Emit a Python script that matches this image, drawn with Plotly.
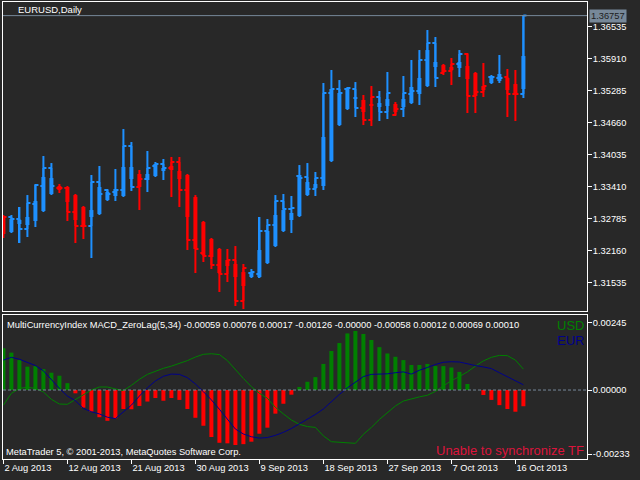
import plotly.graph_objects as go

# daily bars (broker also prints Sunday bars)
dates = [
    "2013-08-02", "2013-08-04", "2013-08-05", "2013-08-06", "2013-08-07", "2013-08-08", "2013-08-09",
    "2013-08-11", "2013-08-12", "2013-08-13", "2013-08-14", "2013-08-15", "2013-08-16",
    "2013-08-18", "2013-08-19", "2013-08-20", "2013-08-21", "2013-08-22", "2013-08-23",
    "2013-08-25", "2013-08-26", "2013-08-27", "2013-08-28", "2013-08-29", "2013-08-30",
    "2013-09-01", "2013-09-02", "2013-09-03", "2013-09-04", "2013-09-05", "2013-09-06",
    "2013-09-08", "2013-09-09", "2013-09-10", "2013-09-11", "2013-09-12", "2013-09-13",
    "2013-09-15", "2013-09-16", "2013-09-17", "2013-09-18", "2013-09-19", "2013-09-20",
    "2013-09-22", "2013-09-23", "2013-09-24", "2013-09-25", "2013-09-26", "2013-09-27",
    "2013-09-29", "2013-09-30", "2013-10-01", "2013-10-02", "2013-10-03", "2013-10-04",
    "2013-10-06", "2013-10-07", "2013-10-08", "2013-10-09", "2013-10-10", "2013-10-11",
    "2013-10-13", "2013-10-14", "2013-10-15", "2013-10-16", "2013-10-17",
]

# candle bodies / wicks as drawn
ha_open = [1.32824, 1.32531, 1.32687, 1.32667, 1.32746, 1.32941, 1.33273, 1.33429, 1.33410, 1.33253,
           1.33019, 1.32824, 1.32882, 1.33156, 1.33234, 1.33234, 1.33566, 1.33664, 1.33546, 1.33624,
           1.33722, 1.33820, 1.33722, 1.33644, 1.33214, 1.32726, 1.32394, 1.32199, 1.31984, 1.31906,
           1.31749, 1.31652, 1.31652, 1.31925, 1.32257, 1.32550, 1.32765, 1.32843, 1.33253, 1.33390,
           1.33429, 1.33917, 1.34621, 1.34933, 1.35128, 1.35109, 1.35031, 1.34972, 1.34992, 1.35031,
           1.34972, 1.35050, 1.35226, 1.35382, 1.35753, 1.35792, 1.35753, 1.35734, 1.35773, 1.35636,
           1.35382, 1.35441, 1.35480, 1.35539, 1.35421, 1.35324]
ha_close = [1.32492, 1.32785, 1.32765, 1.32824, 1.33136, 1.33605, 1.33585, 1.33351, 1.33117, 1.32765,
            1.32628, 1.32960, 1.33410, 1.33312, 1.33371, 1.33800, 1.33800, 1.33410, 1.33664, 1.33859,
            1.33781, 1.33742, 1.33566, 1.32824, 1.32199, 1.32082, 1.32042, 1.31730, 1.31867, 1.31652,
            1.31476, 1.31749, 1.32179, 1.32550, 1.32863, 1.32960, 1.32902, 1.33644, 1.33507, 1.33468,
            1.34386, 1.35324, 1.35246, 1.35343, 1.35167, 1.34874, 1.34992, 1.35050, 1.35128, 1.34874,
            1.35128, 1.35363, 1.35539, 1.36085, 1.35851, 1.35656, 1.35695, 1.35851, 1.35519, 1.35187,
            1.35304, 1.35578, 1.35617, 1.35304, 1.35207, 1.35968]
ha_high = [1.32863, 1.32863, 1.33019, 1.33253, 1.33468, 1.34015, 1.33878, 1.33468, 1.33429, 1.33273,
           1.33039, 1.33644, 1.33820, 1.33371, 1.33761, 1.34542, 1.34289, 1.33742, 1.34113, 1.33898,
           1.33957, 1.33996, 1.33996, 1.33664, 1.33253, 1.32746, 1.32414, 1.32218, 1.32199, 1.32257,
           1.31906, 1.31808, 1.32824, 1.32785, 1.33253, 1.33273, 1.33234, 1.33839, 1.33878, 1.33703,
           1.35441, 1.35695, 1.35499, 1.35363, 1.35460, 1.35207, 1.35382, 1.35285, 1.35656, 1.35070,
           1.35578, 1.35890, 1.36085, 1.36476, 1.36339, 1.35812, 1.35929, 1.36085, 1.36027, 1.35656,
           1.35832, 1.35597, 1.35988, 1.35714, 1.35695, 1.36770]
ha_low = [1.32414, 1.32511, 1.32316, 1.32433, 1.32628, 1.32921, 1.33253, 1.33292, 1.32746, 1.32316,
          1.32394, 1.32023, 1.32863, 1.33136, 1.33136, 1.33214, 1.33332, 1.32960, 1.33312, 1.33605,
          1.33546, 1.33214, 1.33019, 1.32179, 1.31730, 1.31945, 1.31808, 1.31359, 1.31554, 1.31085,
          1.31027, 1.31632, 1.31632, 1.31906, 1.32238, 1.32531, 1.32511, 1.32824, 1.33234, 1.33234,
          1.33351, 1.33898, 1.34601, 1.34914, 1.34777, 1.34621, 1.34601, 1.34699, 1.34738, 1.34796,
          1.34777, 1.35031, 1.35011, 1.35363, 1.35363, 1.35597, 1.35402, 1.35558, 1.34855, 1.34855,
          1.35167, 1.35421, 1.35441, 1.34777, 1.34699, 1.35148]

# real open / close ticks
tick_open = [1.32531, 1.32824, 1.32785, 1.32589, 1.33078, 1.33429, 1.33781, 1.33390, 1.33390, 1.32921,
             1.32648, 1.32648, 1.33507, 1.33351, 1.33312, 1.33351, 1.34210, 1.33410, 1.33566, 1.33820,
             1.33859, 1.33781, 1.33898, 1.33351, 1.32374, 1.32121, 1.32062, 1.31886, 1.31710, 1.31984,
             1.31183, 1.31730, 1.31710, 1.32550, 1.32667, 1.33136, 1.32980, 1.33624, 1.33605, 1.33371,
             1.33585, 1.35246, 1.35324, 1.35324, 1.35324, 1.34953, 1.34718, 1.35167, 1.34874, 1.34816,
             1.34933, 1.35226, 1.35285, 1.35890, 1.36222, 1.35636, 1.35675, 1.35812, 1.36007, 1.35187,
             1.35265, 1.35558, 1.35539, 1.35558, 1.35226, 1.35226]
tick_close = [1.32824, 1.32785, 1.32589, 1.33097, 1.33449, 1.33781, 1.33429, 1.33390, 1.32921, 1.32648,
              1.32648, 1.33507, 1.33273, 1.33273, 1.33351, 1.34210, 1.33410, 1.33566, 1.33781, 1.33859,
              1.33781, 1.33898, 1.33351, 1.32374, 1.32199, 1.32062, 1.31886, 1.31710, 1.31984, 1.31183,
              1.31828, 1.31749, 1.32550, 1.32667, 1.33136, 1.32980, 1.32999, 1.33585, 1.33371, 1.33585,
              1.35246, 1.35324, 1.35246, 1.35343, 1.34953, 1.34718, 1.35167, 1.34874, 1.35246, 1.34933,
              1.35246, 1.35285, 1.35890, 1.36222, 1.35539, 1.35675, 1.35812, 1.36007, 1.35187, 1.35265,
              1.35382, 1.35558, 1.35539, 1.35226, 1.35226, 1.36757]

# MultiCurrencyIndex MACD_ZeroLag panel
hist = [0.00152, 0.00136, 0.00109, 0.00085, 0.00087, 0.00076, 0.00063, 0.00052, 0.00025, -0.00012,
        -0.00064, -0.00079, -0.00099, -0.00112, -0.00103, -0.00069, -0.00070, -0.00058, -0.00042, -0.00029,
        -0.00039, -0.00029, -0.00036, -0.00069, -0.00101, -0.00130, -0.00171, -0.00192, -0.00194, -0.00200,
        -0.00197, -0.00188, -0.00159, -0.00137, -0.00086, -0.00050, -0.00017, 0.00011, 0.00030, 0.00047,
        0.00095, 0.00142, 0.00171, 0.00206, 0.00215, 0.00204, 0.00182, 0.00156, 0.00133, 0.00121,
        0.00109, 0.00091, 0.00091, 0.00095, 0.00087, 0.00087, 0.00082, 0.00066, 0.00022, 0.00000,
        -0.00018, -0.00036, -0.00055, -0.00069, -0.00079, -0.00059]
usd = [-0.00055, -0.00012, 0.00006, 0.00010, 0.00006, -0.00007, -0.00034, -0.00051, -0.00052, -0.00034,
       -0.00017, 0.00000, 0.00011, 0.00011, 0.00004, -0.00002, 0.00017, 0.00039, 0.00057, 0.00069,
       0.00079, 0.00087, 0.00096, 0.00107, 0.00120, 0.00130, 0.00132, 0.00129, 0.00107, 0.00073,
       0.00042, 0.00012, -0.00012, -0.00030, -0.00063, -0.00087, -0.00109, -0.00125, -0.00133, -0.00136,
       -0.00167, -0.00188, -0.00190, -0.00192, -0.00194, -0.00161, -0.00136, -0.00107, -0.00081, -0.00058,
       -0.00040, -0.00032, -0.00025, -0.00019, -0.00005, 0.00015, 0.00034, 0.00049, 0.00066, 0.00087,
       0.00106, 0.00119, 0.00126, 0.00125, 0.00109, 0.00076]
eur = [0.00109, 0.00119, 0.00112, 0.00101, 0.00089, 0.00070, 0.00036, 0.00006, -0.00022, -0.00039,
       -0.00067, -0.00079, -0.00087, -0.00099, -0.00104, -0.00081, -0.00055, -0.00022, 0.00008, 0.00033,
       0.00050, 0.00058, 0.00057, 0.00045, 0.00022, -0.00006, -0.00036, -0.00070, -0.00107, -0.00142,
       -0.00160, -0.00170, -0.00175, -0.00173, -0.00165, -0.00154, -0.00140, -0.00124, -0.00107, -0.00089,
       -0.00069, -0.00042, -0.00016, 0.00008, 0.00030, 0.00049, 0.00057, 0.00058, 0.00059, 0.00063,
       0.00066, 0.00058, 0.00072, 0.00082, 0.00093, 0.00101, 0.00103, 0.00102, 0.00095, 0.00089,
       0.00084, 0.00078, 0.00063, 0.00049, 0.00034, 0.00019]

last_price = 1.36757
price_ticks = [1.31535, 1.32160, 1.32785, 1.33410, 1.34035, 1.34660, 1.35285, 1.35910, 1.36535]
ind_ticks = [0.00245, 0.0, -0.00233]
ind_labels = ["0.00245", "0.00000", "-0.00233"]
date_ticks = ["2013-08-02", "2013-08-12", "2013-08-21", "2013-08-30", "2013-09-09",
              "2013-09-18", "2013-09-27", "2013-10-07", "2013-10-16"]
date_labels = ["2 Aug 2013", "12 Aug 2013", "21 Aug 2013", "30 Aug 2013", "9 Sep 2013",
               "18 Sep 2013", "27 Sep 2013", "7 Oct 2013", "16 Oct 2013"]
header = ("MultiCurrencyIndex MACD_ZeroLag(5,34) -0.00059 0.00076 0.00017 -0.00126 "
          "-0.00000 -0.00058 0.00012 0.00069 0.00010")

BG = "#282828"
BULL = "#1e90ff"
BEAR = "#ff0000"
GREEN = "#008000"
NAVY = "#00008b"
SLATE = "#778899"
FONT = "Liberation Sans"
FS = 9.3

cols = [BULL if c >= o else BEAR for o, c in zip(ha_open, ha_close)]
body_base = [min(o, c) for o, c in zip(ha_open, ha_close)]
body_h = [max(abs(c - o), 0.00004) for o, c in zip(ha_open, ha_close)]
wick_h = [h - l for h, l in zip(ha_high, ha_low)]

fig = go.Figure()

# open/close ticks, split by candle colour
for col in (BULL, BEAR):
    idx = [i for i, c in enumerate(cols) if c == col]
    fig.add_trace(go.Ohlc(
        x=[dates[i] for i in idx],
        open=[tick_open[i] for i in idx],
        close=[tick_close[i] for i in idx],
        high=[max(tick_open[i], tick_close[i]) for i in idx],
        low=[min(tick_open[i], tick_close[i]) for i in idx],
        increasing=dict(line=dict(color=col, width=2)),
        decreasing=dict(line=dict(color=col, width=2)),
        tickwidth=0.38, hoverinfo="skip", xaxis="x", yaxis="y"))

fig.add_trace(go.Bar(x=dates, y=wick_h, base=ha_low, width=0.25,
                     marker=dict(color=cols, line=dict(width=0)), xaxis="x", yaxis="y"))
fig.add_trace(go.Bar(x=dates, y=body_h, base=body_base, width=0.5,
                     marker=dict(color=cols, line=dict(width=0)), xaxis="x", yaxis="y"))

hcols = [GREEN if v >= 0 else BEAR for v in hist]
fig.add_trace(go.Bar(x=dates, y=hist, width=0.5,
                     marker=dict(color=hcols, line=dict(width=0)), xaxis="x2", yaxis="y2"))
fig.add_trace(go.Scatter(x=dates, y=usd, mode="lines", line=dict(color=GREEN, width=1),
                         xaxis="x2", yaxis="y2"))
fig.add_trace(go.Scatter(x=dates, y=eur, mode="lines", line=dict(color=NAVY, width=1),
                         xaxis="x2", yaxis="y2"))

xdom = [3 / 640, 587 / 640]
axis_common = dict(showline=True, mirror=True, linecolor="white", linewidth=1, automargin=False,
                   showgrid=False, zeroline=False, fixedrange=True)
xcat = dict(type="category", categoryorder="array", categoryarray=dates, range=[-0.05, 72.95])
tfont = dict(family=FONT, size=FS, color="white")

fig.update_layout(
    width=640, height=480,
    margin=dict(l=0, r=0, t=0, b=0, autoexpand=False),
    paper_bgcolor=BG, plot_bgcolor=BG,
    showlegend=False, barmode="overlay", hovermode=False,
    font=dict(family=FONT, size=FS, color="white"),
    xaxis=dict(domain=xdom, anchor="y", ticks="", showticklabels=False,
               rangeslider=dict(visible=False), **xcat, **axis_common),
    yaxis=dict(domain=[1 - 311 / 480, 1 - 2 / 480], range=[1.30988, 1.37023], anchor="x",
               side="right", ticks="outside", ticklen=4, tickcolor="white", ticklabelstandoff=-1,
               tickvals=price_ticks, ticktext=[f"{v:.5f}" for v in price_ticks],
               tickfont=tfont, **axis_common),
    xaxis2=dict(domain=xdom, anchor="y2", ticks="outside", ticklen=4, tickcolor="white",
                tickvals=date_ticks, ticktext=date_labels, ticklabelposition="outside right",
                tickfont=tfont, **xcat, **axis_common),
    yaxis2=dict(domain=[1 - 459 / 480, 1 - 315 / 480], range=[-0.00251, 0.00273], anchor="x2",
                side="right", ticks="outside", ticklen=4, tickcolor="white", ticklabelstandoff=-1,
                tickvals=ind_ticks, ticktext=ind_labels, tickfont=tfont, **axis_common),
)

fig.add_shape(type="line", xref="x domain", yref="y", x0=0, x1=1, y0=last_price, y1=last_price,
              line=dict(color=SLATE, width=1))
fig.add_shape(type="line", xref="x2 domain", yref="y2", x0=0, x1=1, y0=0, y1=0,
              line=dict(color=SLATE, width=1, dash="3px,2px"))

fig.add_annotation(xref="paper", yref="y", x=589 / 640, y=last_price, xanchor="left", yanchor="middle",
                   text="1.36757", showarrow=False, bgcolor=SLATE, borderpad=1,
                   font=dict(family=FONT, size=FS, color="#202020"))
fig.add_annotation(xref="paper", yref="paper", x=16 / 640, y=1 - 9 / 480, xanchor="left",
                   yanchor="middle", text="EURUSD,Daily", showarrow=False,
                   font=dict(family=FONT, size=9.5, color="white"))
fig.add_annotation(xref="paper", yref="paper", x=5 / 640, y=1 - 325 / 480, xanchor="left",
                   yanchor="middle", text=header, showarrow=False,
                   font=dict(family=FONT, size=FS, color="white"))
fig.add_annotation(xref="paper", yref="paper", x=586 / 640, y=1 - 325 / 480, xanchor="right",
                   yanchor="middle", text="USD", showarrow=False,
                   font=dict(family=FONT, size=13, color=GREEN))
fig.add_annotation(xref="paper", yref="paper", x=586 / 640, y=1 - 340 / 480, xanchor="right",
                   yanchor="middle", text="EUR", showarrow=False,
                   font=dict(family=FONT, size=13, color=NAVY))
fig.add_annotation(xref="paper", yref="paper", x=4 / 640, y=1 - 452 / 480, xanchor="left",
                   yanchor="middle", text="MetaTrader 5, © 2001-2013, MetaQuotes Software Corp.",
                   showarrow=False, font=dict(family=FONT, size=FS, color="white"))
fig.add_annotation(xref="paper", yref="paper", x=586 / 640, y=1 - 450 / 480, xanchor="right",
                   yanchor="middle", text="Unable to synchronize TF", showarrow=False,
                   font=dict(family=FONT, size=13, color="#dc143c"))

# the page's default body margin would push the 640x480 figure off the window
fig.write_html("out.html", config={"displayModeBar": False},
               post_script="document.body.style.margin = '0';")
